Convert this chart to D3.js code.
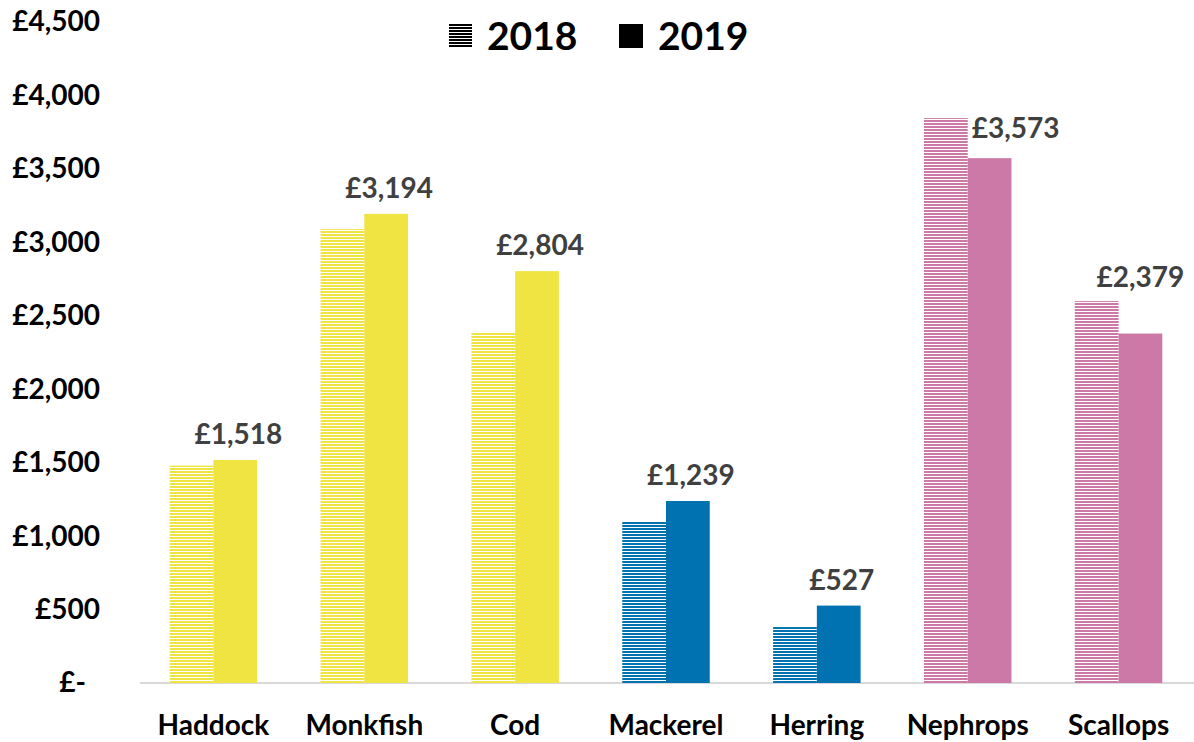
<!DOCTYPE html>
<html>
<head>
<meta charset="utf-8">
<script src="https://cdn.jsdelivr.net/npm/d3@7"></script>
<style>
  body { margin: 0; background: #fff; }
  text { font-family: Lato, "Open Sans", sans-serif; font-weight: bold; }
</style>
</head>
<body>
<svg id="chart" width="1194" height="742"></svg>
<script>
// fish species, value per tonne
var species = ["Haddock", "Monkfish", "Cod", "Mackerel", "Herring", "Nephrops", "Scallops"];
var values2018 = [1480, 3090, 2390, 1096, 381, 3846, 2600];
var values2019 = [1518, 3194, 2804, 1239, 527, 3573, 2379];
var colors = ["#F0E442", "#F0E442", "#F0E442", "#0072B2", "#0072B2", "#CC79A7", "#CC79A7"];
var yTicks = [0, 500, 1000, 1500, 2000, 2500, 3000, 3500, 4000, 4500];
var years = ["2018", "2019"];

var svg = d3.select("#chart");
var margin = {top: 22, right: 0, bottom: 59, left: 138};
var width = 1194, height = 742;
var fmt = d3.format(",");

var x = d3.scaleBand()
            .domain(species)
            .range([margin.left, width - margin.right])
            .paddingInner(0.42)
            .paddingOuter(0.21);

var x1 = d3.scaleBand()
            .domain(years)
            .range([0, x.bandwidth()]);

var y = d3.scaleLinear()
            .domain([0, 4500])
            .range([height - margin.bottom, margin.top]);

// hatch patterns, one per colour
var defs = svg.append("defs");
var uniq = Array.from(new Set(colors));
uniq.concat(["#000"]).forEach(function(c) {
    var p = defs.append("pattern")
                .attr("id", "hatch" + c.replace("#", ""))
                .attr("patternUnits", "userSpaceOnUse")
                .attr("width", 8)
                .attr("height", 3);
    p.append("rect").attr("width", 8).attr("height", 3).attr("fill", "#fff");
    p.append("rect").attr("width", 8).attr("height", 2).attr("fill", c);
});

// y axis labels
var yAxis = d3.axisLeft(y)
                .tickValues(yTicks)
                .tickSize(0)
                .tickFormat(function(d) { return d === 0 ? "£-" : "£" + fmt(d); });

var yg = svg.append("g")
            .attr("transform", "translate(100,0)")
            .call(yAxis);
yg.select(".domain").remove();
yg.selectAll("text")
    .attr("x", function(d) { return d === 0 ? -14 : 0; })
    .attr("fill", "#000")
    .style("font-size", "28px")
    .style("font-family", "Lato, sans-serif");

// baseline
svg.append("line")
    .attr("x1", margin.left + 2)
    .attr("x2", width)
    .attr("y1", y(0))
    .attr("y2", y(0))
    .attr("stroke", "#D9D9D9")
    .attr("stroke-width", 2);

var groups = svg.append("g")
                .selectAll("g")
                .data(species)
                .join("g")
                .attr("transform", function(d) { return "translate(" + x(d) + ",0)"; });

groups.append("rect")
    .attr("x", x1("2018"))
    .attr("width", x1.bandwidth())
    .attr("y", function(d, i) { return y(values2018[i]); })
    .attr("height", function(d, i) { return y(0) - y(values2018[i]); })
    .attr("fill", function(d, i) { return "url(#hatch" + colors[i].replace("#", "") + ")"; });

groups.append("rect")
    .attr("x", x1("2019"))
    .attr("width", x1.bandwidth())
    .attr("y", function(d, i) { return y(values2019[i]); })
    .attr("height", function(d, i) { return y(0) - y(values2019[i]); })
    .attr("fill", function(d, i) { return colors[i]; });

// 2019 value labels; moved up or aside when the 2018 bar is in the way
var labels = groups.append("text")
    .attr("text-anchor", "middle")
    .attr("fill", "#404040")
    .style("font-size", "28px")
    .text(function(d, i) { return "£" + fmt(values2019[i]); });

labels.each(function(d, i) {
    var el = d3.select(this);
    var w = this.getComputedTextLength();
    var cx = x1("2019") + x1.bandwidth() / 2 + 3;
    var base = y(values2019[i]) - 16;
    var barTop = y(values2018[i]);
    var leftEdge = x1("2018") + x1.bandwidth();
    if (barTop < base && cx - w / 2 < leftEdge) {
        var raised = barTop - 14;
        if (raised - 22 > y(4000)) {
            base = raised;
            cx = cx - 3;
        } else {
            cx = leftEdge + 4 + w / 2;
            base = y(values2019[i]) - 20;
        }
    }
    el.attr("x", cx).attr("y", base);
});

// category labels
var xAxis = d3.axisBottom(x).tickSize(0);
var xg = svg.append("g")
            .attr("transform", "translate(0," + y(0) + ")")
            .call(xAxis);
xg.select(".domain").remove();
xg.selectAll("text")
    .attr("y", 52)
    .attr("dy", 0)
    .attr("fill", "#000")
    .style("font-size", "28px")
    .style("font-family", "Lato, sans-serif");

// legend
var legend = svg.append("g").attr("transform", "translate(449,24)");
legend.append("rect").attr("width", 23).attr("height", 24).attr("fill", "url(#hatch000)");
legend.append("text").attr("x", 38).attr("y", 26).style("font-size", "39px").text("2018");
legend.append("rect").attr("x", 170).attr("width", 24).attr("height", 24).attr("fill", "#000");
legend.append("text").attr("x", 209).attr("y", 26).style("font-size", "39px").text("2019");
</script>
</body>
</html>
